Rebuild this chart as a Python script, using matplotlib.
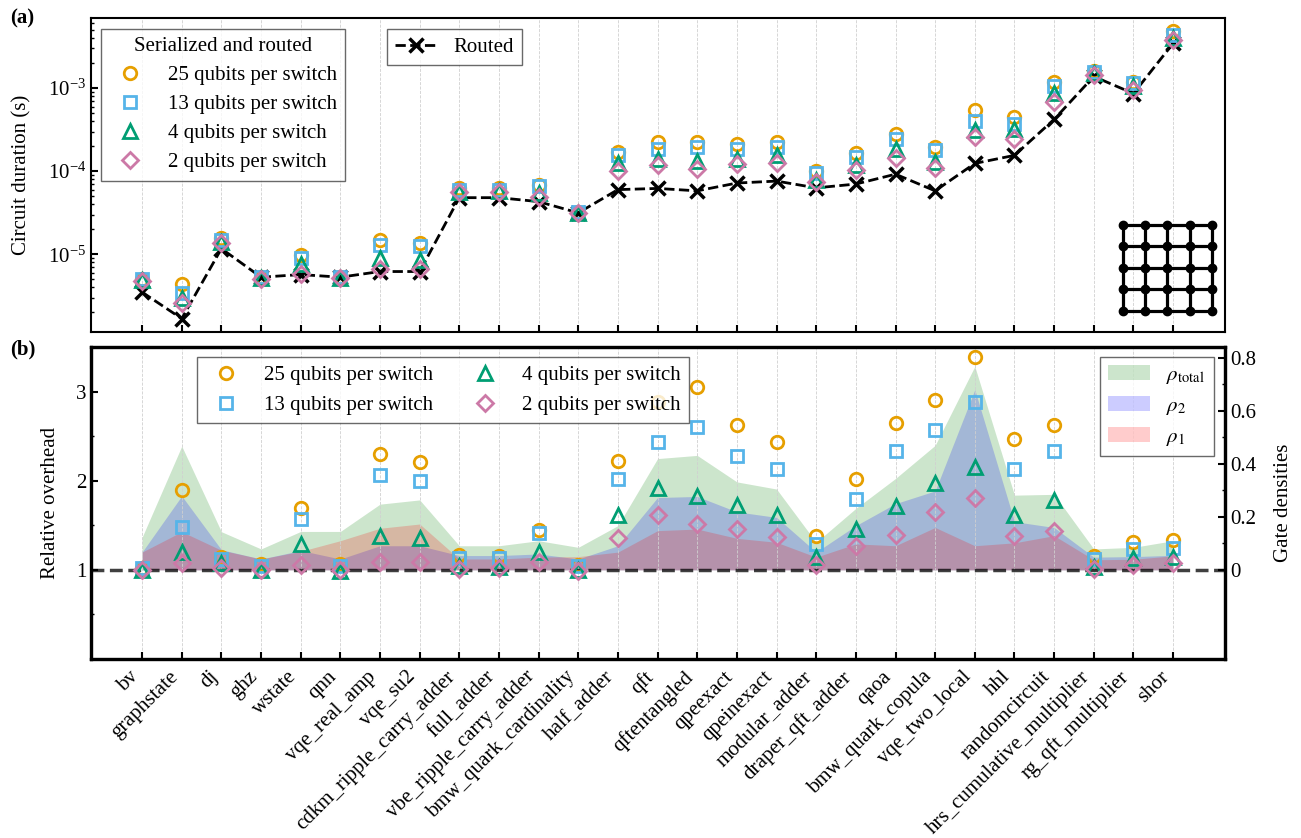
import matplotlib.pyplot as plt
import numpy as np
from matplotlib.ticker import FixedLocator, FormatStrFormatter

plt.rcParams['font.family'] = 'serif'
plt.rcParams['font.serif'] = ['Liberation Serif', 'DejaVu Serif']
plt.rcParams['mathtext.fontset'] = 'stix'
plt.rcParams['font.size'] = 15

circuits = ['bv', 'graphstate', 'dj', 'ghz', 'wstate', 'qnn', 'vqe_real_amp', 'vqe_su2',
            'cdkm_ripple_carry_adder', 'full_adder', 'vbe_ripple_carry_adder',
            'bmw_quark_cardinality', 'half_adder', 'qft', 'qftentangled', 'qpeexact',
            'qpeinexact', 'modular_adder', 'draper_qft_adder', 'qaoa', 'bmw_quark_copula',
            'vqe_two_local', 'hhl', 'randomcircuit', 'hrs_cumulative_multiplier',
            'rg_qft_multiplier', 'shor']

# (a) circuit duration in seconds
routed = [3.5e-6, 1.68e-6, 1.17e-5, 5.3e-6, 5.7e-6, 5.3e-6, 6.2e-6, 6.2e-6, 4.8e-5, 4.8e-5,
          4.3e-5, 3.15e-5, 6.0e-5, 6.2e-5, 5.8e-5, 7.2e-5, 7.6e-5, 6.3e-5, 7.0e-5, 9.2e-5,
          5.8e-5, 1.24e-4, 1.55e-4, 4.2e-4, 1.38e-3, 8.6e-4, 3.45e-3]
dur_25 = [5.0e-6, 4.35e-6, 1.55e-5, 5.4e-6, 9.7e-6, 5.4e-6, 1.47e-5, 1.37e-5, 6.2e-5, 6.2e-5,
          6.9e-5, 3.25e-5, 1.71e-4, 2.25e-4, 2.25e-4, 2.11e-4, 2.25e-4, 1.0e-4, 1.66e-4, 2.79e-4,
          1.96e-4, 5.4e-4, 4.5e-4, 1.2e-3, 1.6e-3, 1.2e-3, 4.8e-3]
dur_13 = [5.0e-6, 3.42e-6, 1.5e-5, 5.3e-6, 8.9e-6, 5.3e-6, 1.28e-5, 1.25e-5, 6.0e-5, 6.0e-5,
          6.6e-5, 3.2e-5, 1.56e-4, 1.83e-4, 1.93e-4, 1.87e-4, 1.97e-4, 9.5e-5, 1.49e-4, 2.47e-4,
          1.8e-4, 4.04e-4, 3.7e-4, 1.07e-3, 1.58e-3, 1.16e-3, 4.36e-3]
dur_4 = [4.9e-6, 3.0e-6, 1.42e-5, 5.2e-6, 7.7e-6, 5.2e-6, 8.9e-6, 8.5e-6, 5.6e-5, 5.7e-5,
         5.4e-5, 3.15e-5, 1.26e-4, 1.42e-4, 1.33e-4, 1.42e-4, 1.56e-4, 7.8e-5, 1.18e-4, 1.83e-4,
         1.29e-4, 3.12e-4, 3.25e-4, 8.8e-4, 1.5e-3, 1.05e-3, 4.0e-3]
dur_2 = [4.8e-6, 2.6e-6, 1.35e-5, 5.1e-6, 5.85e-6, 5.2e-6, 6.6e-6, 6.6e-6, 5.6e-5, 5.6e-5,
         4.9e-5, 3.15e-5, 1.01e-4, 1.2e-4, 1.05e-4, 1.21e-4, 1.26e-4, 7.4e-5, 1.02e-4, 1.45e-4,
         1.08e-4, 2.59e-4, 2.47e-4, 6.8e-4, 1.45e-3, 9.4e-4, 3.8e-3]

# (b) relative overhead
rel_25 = [1.02, 1.90, 1.14, 1.07, 1.69, 1.07, 2.30, 2.21, 1.17, 1.16, 1.45, 1.05, 2.22, 2.88,
          3.05, 2.62, 2.43, 1.385, 2.02, 2.65, 2.90, 3.39, 2.47, 2.63, 1.16, 1.31, 1.33]
rel_13 = [1.02, 1.485, 1.12, 1.04, 1.57, 1.04, 2.06, 2.0, 1.13, 1.13, 1.41, 1.04, 2.02, 2.43,
          2.605, 2.28, 2.13, 1.29, 1.80, 2.335, 2.57, 2.885, 2.13, 2.33, 1.12, 1.23, 1.24]
rel_4 = [1.0, 1.205, 1.08, 1.0, 1.295, 0.99, 1.385, 1.36, 1.04, 1.03, 1.2, 1.0, 1.615, 1.915,
         1.825, 1.73, 1.62, 1.14, 1.46, 1.72, 1.975, 2.15, 1.61, 1.78, 1.03, 1.13, 1.14]
rel_2 = [1.0, 1.08, 1.02, 1.0, 1.06, 1.0, 1.086, 1.086, 1.01, 1.02, 1.09, 0.99, 1.355, 1.61,
         1.52, 1.46, 1.37, 1.06, 1.27, 1.39, 1.645, 1.81, 1.385, 1.44, 1.01, 1.06, 1.075]

# gate densities
rho_total = [0.123, 0.467, 0.144, 0.079, 0.145, 0.145, 0.248, 0.264, 0.091, 0.091, 0.110, 0.085,
             0.167, 0.42, 0.432, 0.332, 0.305, 0.104, 0.232, 0.345, 0.47, 0.768, 0.282, 0.285,
             0.079, 0.085, 0.110]
rho_2 = [0.067, 0.279, 0.076, 0.041, 0.073, 0.041, 0.091, 0.091, 0.054, 0.054, 0.06, 0.041,
         0.091, 0.273, 0.277, 0.219, 0.198, 0.067, 0.167, 0.25, 0.298, 0.68, 0.182, 0.16,
         0.048, 0.05, 0.055]
rho_1 = [0.067, 0.144, 0.074, 0.041, 0.07, 0.110, 0.157, 0.173, 0.041, 0.041, 0.048, 0.05,
         0.067, 0.148, 0.154, 0.119, 0.104, 0.048, 0.098, 0.091, 0.16, 0.091, 0.102, 0.129,
         0.038, 0.04, 0.053]

labels = ['25 qubits per switch', '13 qubits per switch', '4 qubits per switch', '2 qubits per switch']
markers = ['o', 's', '^', 'D']
colors = ['#E69F00', '#56B4E9', '#009E73', '#CC79A7']
msizes = [9, 9, 9.5, 8]

x = np.arange(len(circuits))

fig = plt.figure(figsize=(13.01, 8.38), dpi=100)
ax1 = fig.add_axes([0.0699, 0.6038, 0.8717, 0.3747])
ax2 = fig.add_axes([0.0699, 0.2136, 0.8717, 0.3723])

# ---- (a) ----
rline, = ax1.plot(x, routed, 'k--', marker='x', lw=2, ms=10, mew=2.5, label='Routed', zorder=3)
handles = []
for vals, lab, m, c, s in zip([dur_25, dur_13, dur_4, dur_2], labels, markers, colors, msizes):
    h, = ax1.plot(x, vals, ls='none', marker=m, ms=s, mfc='none', mec=c, mew=2, label=lab, zorder=4)
    handles.append(h)

ax1.set_yscale('log')
ax1.set_ylim(1.16e-6, 6.97e-3)
ax1.set_xlim(-1.29, 27.31)
ax1.set_xticks(x)
ax1.tick_params(axis='x', labelbottom=False)
ax1.set_ylabel('Circuit duration (s)')
ax1.yaxis.set_label_coords(-0.052, 0.5)
ax1.grid(axis='x', ls='--', lw=0.6, color='#d0d0d0')
ax1.set_axisbelow(True)

leg1 = ax1.legend(handles=handles, title='Serialized and routed', loc='upper left',
                  bbox_to_anchor=(0.0088, 0.965), borderaxespad=0, fancybox=False,
                  edgecolor='#444444', title_fontsize=15, labelspacing=0.45)
ax1.add_artist(leg1)
ax1.legend(handles=[rline], loc='upper left', bbox_to_anchor=(0.261, 0.965), borderaxespad=0,
           fancybox=False, edgecolor='#444444')

# inset: 5x5 grid topology
axi = fig.add_axes([0.858, 0.6212, 0.0787, 0.118])
for i in range(5):
    axi.plot([0, 4], [i, i], 'k-', lw=2.3)
    axi.plot([i, i], [0, 4], 'k-', lw=2.3)
gx, gy = np.meshgrid(np.arange(5), np.arange(5))
axi.plot(gx.ravel(), gy.ravel(), 'ko', ms=6)
axi.set_xlim(-0.3, 4.3)
axi.set_ylim(-0.3, 4.3)
axi.axis('off')

# ---- (b) ----
axd = ax2.twinx()
ax2.set_zorder(axd.get_zorder() + 1)
ax2.patch.set_visible(False)

f1 = axd.fill_between(x, 0, rho_total, color='green', alpha=0.2, lw=0, label=r'$\rho_{\rm total}$')
f2 = axd.fill_between(x, 0, rho_2, color='blue', alpha=0.2, lw=0, label=r'$\rho_2$')
f3 = axd.fill_between(x, 0, rho_1, color='red', alpha=0.2, lw=0, label=r'$\rho_1$')

ax2.axhline(1, color='k', ls='--', lw=2.5, alpha=0.75, zorder=2)
handles2 = []
for vals, lab, m, c, s in zip([rel_25, rel_13, rel_4, rel_2], labels, markers, colors, msizes):
    h, = ax2.plot(x, vals, ls='none', marker=m, ms=s, mfc='none', mec=c, mew=2, label=lab, zorder=4)
    handles2.append(h)

ax2.set_xlim(-1.29, 27.31)
ax2.set_ylim(0, 3.5)
ax2.set_yticks([1, 2, 3])
ax2.yaxis.set_minor_locator(FixedLocator([0.5, 1.5, 2.5]))
ax2.set_xticks(x)
ax2.set_xticklabels(circuits, rotation=45, ha='right')
ax2.set_ylabel('Relative overhead')
ax2.yaxis.set_label_coords(-0.027, 0.5)
ax2.grid(axis='x', ls='--', lw=0.6, color='#d0d0d0')

axd.set_ylim(-0.3364, 0.841)
axd.set_yticks([0, 0.2, 0.4, 0.6, 0.8])
axd.yaxis.set_major_formatter(FormatStrFormatter('%g'))
axd.yaxis.set_minor_locator(FixedLocator([0.1, 0.3, 0.5, 0.7]))
axd.set_ylabel('Gate densities')
axd.yaxis.set_label_coords(1.043, 0.5)

leg3 = ax2.legend(handles=handles2, ncol=2, loc='upper left', bbox_to_anchor=(0.0935, 0.968),
                  borderaxespad=0, fancybox=False, edgecolor='#444444', columnspacing=1.5)
ax2.add_artist(leg3)
ax2.legend(handles=[f1, f2, f3], loc='upper right', bbox_to_anchor=(0.990, 0.968),
           borderaxespad=0, fancybox=False, edgecolor='#444444')

# tick / spine styling
for ax, sw in [(ax1, 1.5), (ax2, 2.3), (axd, 2.3)]:
    for sp in ax.spines.values():
        sp.set_linewidth(sw)
    ax.tick_params(which='major', direction='in', length=5, width=1.5)
    ax.tick_params(which='minor', direction='in', length=2.5, width=1)
ax2.tick_params(axis='x', which='major', pad=6)

fig.text(0.008, 0.99, '(a)', fontweight='bold', va='top', ha='left')
fig.text(0.008, 0.595, '(b)', fontweight='bold', va='top', ha='left')

fig.savefig('out.png', dpi=100)
